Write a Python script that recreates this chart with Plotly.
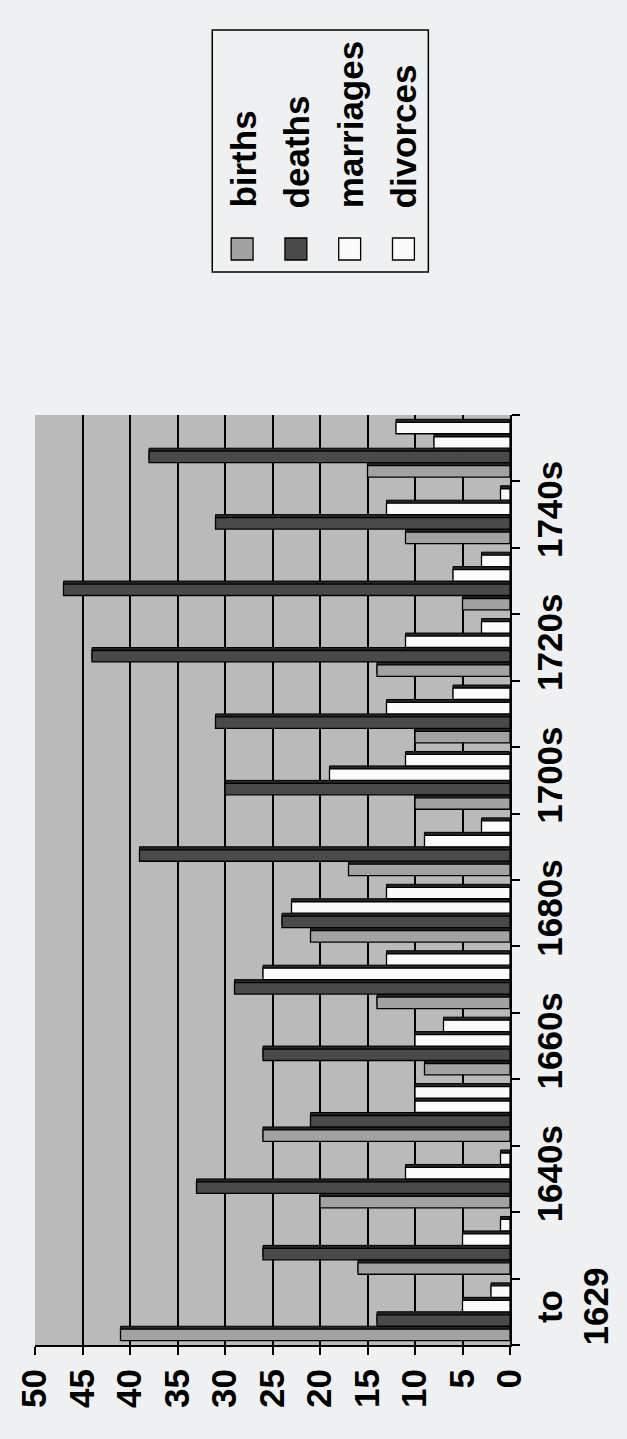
import plotly.graph_objects as go

# Decades (bottom to top) and the counts recorded for each
decades = ["to 1629", "1630s", "1640s", "1650s", "1660s", "1670s", "1680s",
           "1690s", "1700s", "1710s", "1720s", "1730s", "1740s", "1750s"]
tick_labels = ["to<br>1629", "", "1640s", "", "1660s", "", "1680s",
               "", "1700s", "", "1720s", "", "1740s", ""]

births    = [41, 16, 20, 26,  9, 14, 21, 17, 10, 10, 14,  5, 11, 15]
deaths    = [14, 26, 33, 21, 26, 29, 24, 39, 30, 31, 44, 47, 31, 38]
marriages = [ 5,  5, 11, 10, 10, 26, 23,  9, 19, 13, 11,  6, 13,  8]
divorces  = [ 2,  1,  1, 10,  7, 13, 13,  3, 11,  6,  3,  3,  1, 12]

series = [
    ("births", births, "#a2a2a2"),
    ("deaths", deaths, "#4a4a4a"),
    ("marriages", marriages, "#fbfbfb"),
    ("divorces", divorces, "#fbfbfb"),
]

W, H = 627, 1439
L, R, T, B = 35, 512, 415, 1345  # plot area edges in pixels


def px_x(x):
    return (x - L) / (R - L)


def px_y(y):
    return (B - y) / (B - T)


FONT = "Liberation Sans, Arial, Helvetica, sans-serif"

GROUP = 0.87                 # share of each decade slot taken by its bars
slot = GROUP / len(series)   # one bar plus its shaded top face
face = 0.045                 # thickness of the shaded top face

fig = go.Figure()
for i, (name, vals, col) in enumerate(series):
    off = -GROUP / 2 + i * slot
    # darker top face giving each bar a little depth
    fig.add_trace(go.Bar(
        y=decades, x=vals, orientation="h", name=name + " face",
        offset=off + face, width=slot - face,
        marker=dict(color="#262626", line=dict(color="black", width=1)),
        hoverinfo="skip",
    ))
    fig.add_trace(go.Bar(
        y=decades, x=vals, orientation="h", name=name,
        offset=off, width=slot - face,
        marker=dict(color=col, line=dict(color="black", width=1.3)),
    ))

fig.update_layout(
    width=W, height=H,
    margin=dict(l=L, r=W - R, t=T, b=H - B, pad=0),
    paper_bgcolor="#eef0f2",
    plot_bgcolor="#bababa",
    barmode="overlay",
    showlegend=False,
    font=dict(family=FONT, color="black"),
)

fig.update_xaxes(
    range=[50, 0], tick0=0, dtick=5, tickangle=-90,
    tickfont=dict(size=35, weight="bold", family=FONT),
    ticks="outside", ticklen=8, tickwidth=2, tickcolor="black",
    showgrid=True, gridcolor="black", gridwidth=1.5,
    showline=True, linecolor="black", linewidth=2, zeroline=False,
)

fig.update_yaxes(
    type="category", categoryorder="array", categoryarray=decades,
    range=[-0.5, len(decades) - 0.5],
    side="right", tickson="boundaries",
    tickvals=decades, ticktext=tick_labels, tickangle=-90,
    tickfont=dict(size=35, weight="bold", family=FONT),
    ticks="outside", ticklen=8, tickwidth=2, tickcolor="black",
    ticklabelstandoff=8,
    showgrid=False, showline=True, linecolor="black", linewidth=2,
)

# Legend drawn by hand so its entries can read bottom-to-top like the axes
fig.add_shape(type="rect", xref="paper", yref="paper",
              x0=px_x(213), x1=px_x(430), y0=px_y(272), y1=px_y(30),
              line=dict(color="black", width=1.5), fillcolor="rgba(0,0,0,0)")
centers = [243, 297, 351, 405]
for (name, _, col), cx in zip(series, centers):
    fig.add_shape(type="rect", xref="paper", yref="paper",
                  x0=px_x(cx - 11), x1=px_x(cx + 11),
                  y0=px_y(260), y1=px_y(238),
                  line=dict(color="black", width=1.3), fillcolor=col)
    fig.add_annotation(xref="paper", yref="paper",
                       x=px_x(cx + 1), y=px_y(210),
                       xanchor="center", yanchor="bottom",
                       text=name, textangle=-90, showarrow=False,
                       font=dict(size=35, weight="bold", family=FONT))

fig.write_html("out.html")
